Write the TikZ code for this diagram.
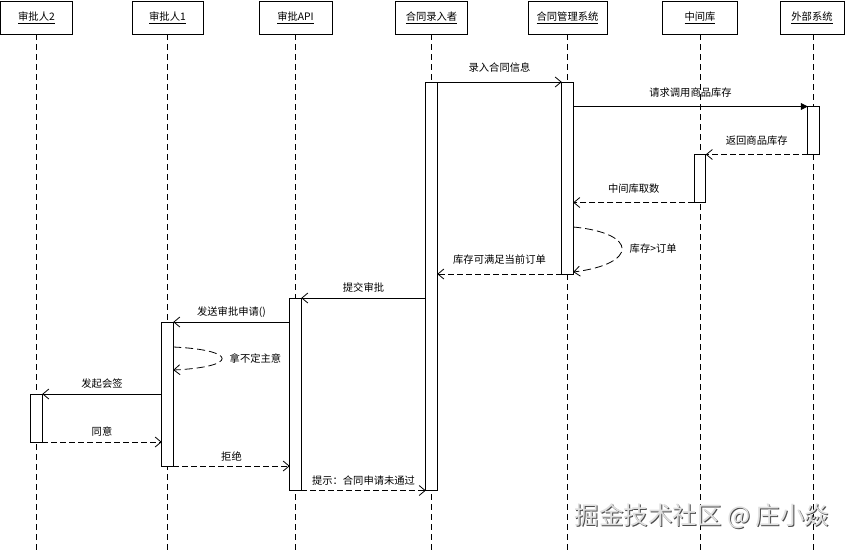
\documentclass[tikz,border=0pt]{standalone}
\usepackage{fontspec}
\newfontfamily\cjk{Noto Sans CJK SC}
\usetikzlibrary{arrows.meta,calc}
\begin{document}
\begin{tikzpicture}[x=1pt,y=-1pt,
  every node/.style={font=\cjk\fontsize{10.3}{12}\selectfont},
  head/.style={draw, line width=0.8pt, minimum height=33.3pt, inner sep=0pt, outer sep=0pt},
  life/.style={line width=0.8pt, dash pattern=on 6pt off 4pt},
  act/.style={draw, fill=white, line width=0.8pt, minimum width=11.5pt, inner sep=0pt, outer sep=0pt},
  sync/.style={line width=0.8pt, -{Straight Barb[length=6pt,width=10pt]}},
  ret/.style={sync, dash pattern=on 6pt off 3pt},
  selfret/.style={sync, dash pattern=on 8pt off 4pt},
  call/.style={line width=0.8pt, -{Triangle[length=7pt,width=7pt]}},
  lbl/.style={midway, yshift=14pt},
  lbls/.style={midway, yshift=10pt},
  wm/.style={font=\cjk\fontsize{24.5}{28}\selectfont, text=gray!25},
  wmshadow/.style={font=\cjk\fontsize{24.5}{28}\selectfont, text=gray!60!black},
]
\useasboundingbox (0,0) rectangle (850,550);
\coordinate (bot) at (0,550);

% headers
\node[head, minimum width=72pt] (hA2) at (36.5,17.7) {\underline{审批人2}};
\node[head, minimum width=71pt] (hA1) at (167.5,17.7) {\underline{审批人1}};
\node[head, minimum width=73pt] (hAPI) at (295.5,17.7) {\underline{审批API}};
\node[head, minimum width=72pt] (hLR) at (431.5,17.7) {\underline{合同录入者}};
\node[head, minimum width=79pt] (hGL) at (567.5,17.7) {\underline{合同管理系统}};
\node[head, minimum width=75pt] (hZJ) at (700,17.7) {\underline{中间库}};
\node[head, minimum width=64pt] (hWB) at (812,17.7) {\underline{外部系统}};

% lifelines
\foreach \h in {hA2,hA1,hAPI,hLR,hGL,hZJ}
  \draw[life] (\h.south) -- (\h.south |- bot);
\coordinate (wbtop) at (813.5,34.4);
\draw[life] (wbtop) -- (wbtop |- bot);

% activations
\node[act, minimum height=408.5pt] (aLR) at (431.5,286.25) {};
\node[act, minimum height=192pt] (aGL) at (567.5,178) {};
\node[act, minimum height=48pt] (aWB) at (813.5,130.5) {};
\node[act, minimum height=48pt] (aZJ) at (700,178.5) {};
\node[act, minimum height=192.5pt] (aAPI) at (295.5,394.25) {};
\node[act, minimum height=144pt] (aA1) at (167.5,394) {};
\node[act, minimum height=48pt] (aA2) at (36.5,418) {};

% messages
\draw[sync] (aLR.north east) -- (aGL.north west) node[lbl]{录入合同信息};
\draw[call] (aGL.east |- aWB.north) -- (aWB.north west) node[lbl]{请求调用商品库存};
\draw[ret] (aWB.south west) -- (aZJ.north east) node[lbl]{返回商品库存};
\draw[ret] (aZJ.south west) -- (aZJ.south west -| aGL.east) node[lbl]{中间库取数};
\draw[selfret] ($(aGL.north east)+(0,145)$) .. controls +(65,6) and +(65,-8) .. ($(aGL.south east)+(0,-2)$) node[pos=0.5, right=4pt]{库存>订单};
\draw[ret] (aGL.south west) -- (aGL.south west -| aLR.east) node[lbl]{库存可满足当前订单};
\draw[sync] (aLR.west |- aAPI.north) -- (aAPI.north east) node[lbls]{提交审批};
\draw[sync] (aAPI.west |- aA1.north) -- (aA1.north east) node[lbls]{发送审批申请()};
\draw[selfret] ($(aA1.north east)+(0,25)$) .. controls +(65,3) and +(65,-3) .. ($(aA1.north east)+(0,48)$) node[pos=0.5, right=4pt]{拿不定主意};
\draw[sync] (aA1.west |- aA2.north) -- (aA2.north east) node[lbls]{发起会签};
\draw[ret] (aA2.south east) -- (aA2.south east -| aA1.west) node[lbls]{同意};
\draw[ret] (aA1.south east) -- (aA1.south east -| aAPI.west) node[lbls]{拒绝};
\draw[ret] (aAPI.south east) -- (aAPI.south east -| aLR.west) node[lbls]{提示：合同申请未通过};

% watermark
\node[wmshadow] (wms) at (703,517) {掘金技术社区 @ 庄小焱};
\node[wm] (wmk) at (702,516) {掘金技术社区 @ 庄小焱};
\end{tikzpicture}
\end{document}
